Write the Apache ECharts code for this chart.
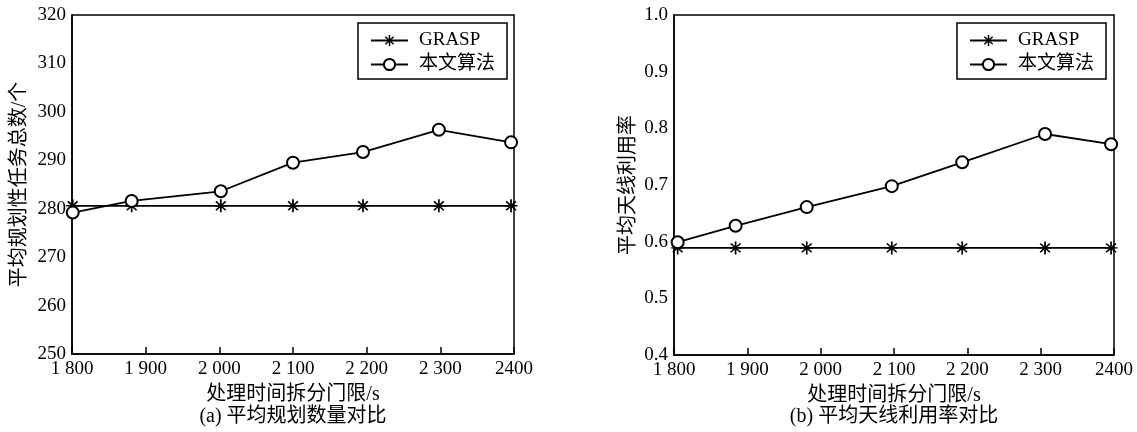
<!DOCTYPE html>
<html>
<head>
<meta charset="utf-8">
<script src="https://cdn.jsdelivr.net/npm/echarts@6/dist/echarts.min.js"></script>
<style>html,body{margin:0;padding:0;background:#fff;}#c{width:1137px;height:432px;}</style>
</head>
<body>
<div id="c"></div>
<script>
// ---- data ----
const xTickLabels = ['1 800', '1 900', '2 000', '2 100', '2 200', '2 300', '2400'];
const xTickValues = [1800, 1900, 2000, 2100, 2200, 2300, 2400];
const seriesNames = ['GRASP', '本文算法'];

// (a) 平均规划数量对比
const xA = [1801, 1881, 2002, 2100, 2195, 2298, 2396];
const graspA = [280.6, 280.6, 280.6, 280.6, 280.6, 280.6, 280.6];
const oursA = [279.2, 281.6, 283.6, 289.5, 291.7, 296.3, 293.7];
const yLabelsA = ['250', '260', '270', '280', '290', '300', '310', '320'];

// (b) 平均天线利用率对比
const xB = [1805, 1884, 1981, 2097, 2193, 2306, 2396];
const graspB = [0.589, 0.589, 0.589, 0.589, 0.589, 0.589, 0.589];
const oursB = [0.599, 0.628, 0.661, 0.698, 0.740, 0.790, 0.772];
const yLabelsB = ['0.4', '0.5', '0.6', '0.7', '0.8', '0.9', '1.0'];

const captions = ['(a) 平均规划数量对比', '(b) 平均天线利用率对比'];
const xName = '处理时间拆分门限/s';
const yNames = ['平均规划性任务总数/个', '平均天线利用率'];

// ---- chart ----
const FONT = '"Liberation Serif", "Times New Roman", "Noto Sans CJK SC", serif';
const zip = (xs, ys) => xs.map((x, i) => [x, ys[i]]);
const asterisk = 'path://M8.8 0L11.2 0L11.2 20L8.8 20Z M1 8.9L19 8.9L19 11.1L1 11.1Z M2.4 4L4 2.4L17.6 16L16 17.6Z M16 2.4L17.6 4L4 17.6L2.4 16Z';

const grids = [
  { left: 72, top: 15, width: 442, height: 339 },
  { left: 674, top: 15, width: 440, height: 340 }
];

function xAxis(idx) {
  return {
    type: 'value', gridIndex: idx, min: 1800, max: 2400, interval: 100,
    name: xName, nameLocation: 'middle', nameGap: 31,
    nameTextStyle: { fontFamily: FONT, fontSize: 20, color: '#000' },
    axisLine: { show: true, lineStyle: { color: '#000', width: 1.5 } },
    axisTick: { show: true, inside: true, length: 7, lineStyle: { color: '#000', width: 1.5 } },
    axisLabel: {
      fontFamily: FONT, fontSize: 19, color: '#000', margin: 6,
      showMinLabel: true, showMaxLabel: true,
      formatter: v => { const i = xTickValues.indexOf(Math.round(v)); return i >= 0 ? xTickLabels[i] : ''; }
    },
    splitLine: { show: false }
  };
}

function yAxis(idx, min, max, interval, labels, gap) {
  return {
    type: 'value', gridIndex: idx, min: min, max: max, interval: interval,
    name: yNames[idx], nameLocation: 'middle', nameGap: gap,
    nameTextStyle: { fontFamily: FONT, fontSize: 20, color: '#000' },
    axisLine: { show: true, lineStyle: { color: '#000', width: 1.5 } },
    axisTick: { show: false },
    axisLabel: {
      fontFamily: FONT, fontSize: 19, color: '#000', margin: 6,
      showMinLabel: true, showMaxLabel: true,
      formatter: v => labels[Math.round((v - min) / interval)]
    },
    splitLine: { show: false }
  };
}

function lineSeries(name, idx, data, symbol, size) {
  return {
    name: name, type: 'line', xAxisIndex: idx, yAxisIndex: idx,
    data: data, symbol: symbol, symbolSize: size, showAllSymbol: true,
    lineStyle: { color: '#000', width: 1.8 },
    itemStyle: { color: '#000', borderWidth: 1.6 },
    emphasis: { disabled: true }, animation: false
  };
}

function legend(left) {
  return {
    data: seriesNames, orient: 'vertical', left: left, top: 23,
    padding: [8, 12, 5, 12], itemGap: 5,
    itemWidth: 37, itemHeight: 14,
    backgroundColor: '#fff', borderColor: '#000', borderWidth: 1.5, borderRadius: 0,
    selectedMode: false,
    textStyle: { fontFamily: FONT, fontSize: 19, color: '#000', padding: [0, 0, 0, 6] }
  };
}

const chart = echarts.init(document.getElementById('c'), null, { renderer: 'canvas' });
chart.setOption({
  backgroundColor: '#fff',
  animation: false,
  grid: grids.map(g => Object.assign({ show: true, borderColor: '#000', borderWidth: 1.5, containLabel: false }, g)),
  xAxis: [xAxis(0), xAxis(1)],
  yAxis: [yAxis(0, 250, 320, 10, yLabelsA, 42), yAxis(1, 0.4, 1.0, 0.1, yLabelsB, 35)],
  legend: [legend(358), legend(957)],
  title: [
    { text: captions[0], left: 293, top: 407, textAlign: 'center', textStyle: { fontFamily: FONT, fontSize: 20, fontWeight: 'normal', color: '#000' }, padding: 0 },
    { text: captions[1], left: 894, top: 407, textAlign: 'center', textStyle: { fontFamily: FONT, fontSize: 20, fontWeight: 'normal', color: '#000' }, padding: 0 }
  ],
  series: [
    lineSeries(seriesNames[0], 0, zip(xA, graspA), asterisk, 13),
    lineSeries(seriesNames[1], 0, zip(xA, oursA), 'emptyCircle', 12),
    lineSeries(seriesNames[0], 1, zip(xB, graspB), asterisk, 13),
    lineSeries(seriesNames[1], 1, zip(xB, oursB), 'emptyCircle', 12)
  ]
});
</script>
</body>
</html>
